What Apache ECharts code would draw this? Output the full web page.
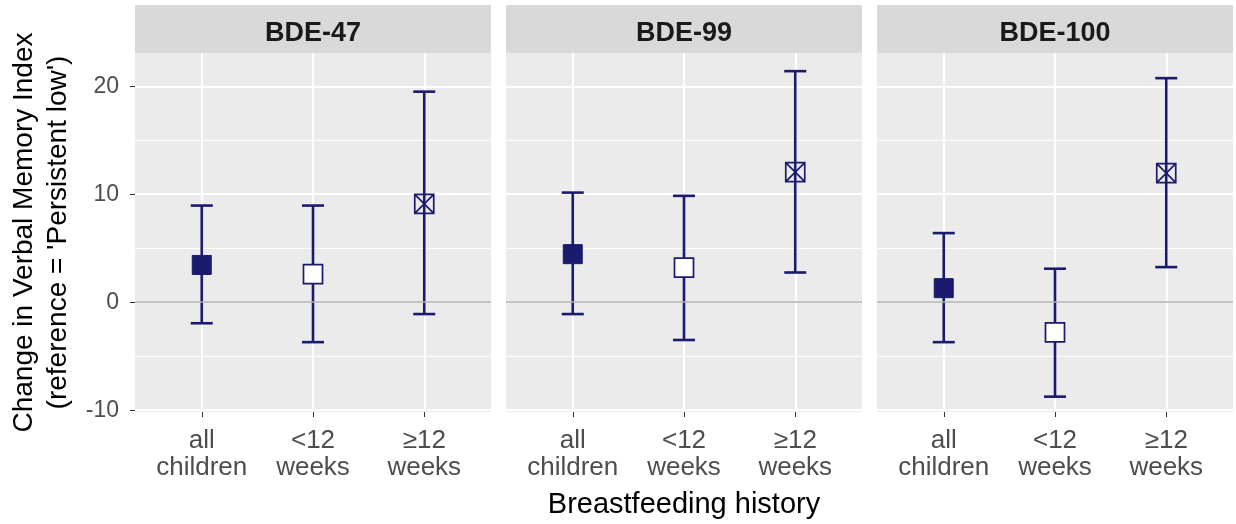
<!DOCTYPE html>
<html>
<head>
<meta charset="utf-8">
<title>Verbal Memory Index by breastfeeding history</title>
<script src="https://cdn.jsdelivr.net/npm/echarts@6/dist/echarts.min.js"></script>
<style>
  html, body { margin: 0; padding: 0; background: #ffffff; }
  #chart { width: 1236px; height: 524px; }
</style>
</head>
<body>
<div id="chart"></div>
<script>
// panels (facets) and x categories
const panels = ['BDE-47', 'BDE-99', 'BDE-100'];
const groups = ['all\nchildren', '<12\nweeks', '≥12\nweeks'];

// estimates and 95% CI
const estBDE47 = [3.45, 2.6, 9.1];
const lowBDE47 = [-1.95, -3.7, -1.1];
const highBDE47 = [8.95, 8.95, 19.5];

const estBDE99 = [4.45, 3.2, 12.05];
const lowBDE99 = [-1.1, -3.5, 2.75];
const highBDE99 = [10.15, 9.85, 21.4];

const estBDE100 = [1.3, -2.8, 11.95];
const lowBDE100 = [-3.7, -8.75, 3.25];
const highBDE100 = [6.4, 3.1, 20.75];

// axis breaks
const yMajorTicks = [-10, 0, 10, 20];
const yMinorTicks = [-5, 5, 15];
const xTicks = [1, 2, 3];

const panelValues = [
  [estBDE47, lowBDE47, highBDE47],
  [estBDE99, lowBDE99, highBDE99],
  [estBDE100, lowBDE100, highBDE100]
];

const NAVY = '#1a1a6e';
const FONT = '"Liberation Sans", Arial, sans-serif';

// panel layout (pixels)
const panelLeft = [135, 506, 877];
const panelWidth = 356;
const panelTop = 53;
const panelHeight = 359;
const stripTop = 5;

const chart = echarts.init(document.getElementById('chart'), null, { renderer: 'canvas' });

const grids = panelLeft.map(left => ({
  left: left,
  top: panelTop,
  width: panelWidth,
  height: panelHeight,
  show: true,
  backgroundColor: '#EBEBEB',
  borderWidth: 0
}));

const xAxes = panelLeft.map((_, i) => ({
  type: 'value',
  gridIndex: i,
  min: 0.4,
  max: 3.6,
  axisLine: { show: false, onZero: false },
  axisTick: { show: true, customValues: xTicks, length: 5, lineStyle: { color: '#333333', width: 1 } },
  axisLabel: {
    customValues: xTicks,
    formatter: v => groups[Math.round(v) - 1],
    color: '#4D4D4D',
    fontFamily: FONT,
    fontSize: 26,
    lineHeight: 27,
    margin: 15
  },
  splitLine: { show: true, lineStyle: { color: '#ffffff', width: 2 } },
  name: i === 1 ? 'Breastfeeding history' : '',
  nameLocation: 'middle',
  nameGap: 78,
  nameTextStyle: { color: '#000000', fontFamily: FONT, fontSize: 29 }
}));

const yAxes = [];
panelLeft.forEach((_, i) => {
  yAxes.push({
    type: 'value',
    gridIndex: i,
    min: -10.17,
    max: 23.08,
    axisLine: { show: false, onZero: false },
    axisTick: { show: i === 0, customValues: yMajorTicks, length: 5, lineStyle: { color: '#333333', width: 1 } },
    axisLabel: {
      show: i === 0,
      customValues: yMajorTicks,
      color: '#4D4D4D',
      fontFamily: FONT,
      fontSize: 23,
      margin: 16
    },
    splitLine: { show: true, lineStyle: { color: '#ffffff', width: 2 } },
    name: i === 0 ? "Change in Verbal Memory Index\n(reference = 'Persistent low')" : '',
    nameLocation: 'middle',
    nameRotate: 90,
    nameGap: 60,
    nameTextStyle: { color: '#000000', fontFamily: FONT, fontSize: 28, lineHeight: 34 }
  });
  yAxes.push({
    type: 'value',
    gridIndex: i,
    min: -10.17,
    max: 23.08,
    axisLine: { show: false, onZero: false },
    axisTick: { show: false, customValues: yMinorTicks },
    axisLabel: { show: false, customValues: yMinorTicks },
    splitLine: { show: true, lineStyle: { color: '#ffffff', width: 1 } }
  });
});

const squareCross = 'path://M0,0L20,0L20,20L0,20Z M0,0L20,20 M20,0L0,20';
const pointStyles = [
  { symbol: 'rect', itemStyle: { color: NAVY, borderColor: NAVY, borderWidth: 1, opacity: 1 } },
  { symbol: 'rect', itemStyle: { color: '#ffffff', borderColor: NAVY, borderWidth: 1.7, opacity: 1 } },
  { symbol: squareCross, itemStyle: { color: 'rgba(0,0,0,0)', borderColor: NAVY, borderWidth: 1.7, opacity: 1 } }
];

const series = [];
panelValues.forEach(([est, low, high], i) => {
  // zero reference line
  series.push({
    type: 'line',
    xAxisIndex: i,
    yAxisIndex: 2 * i,
    data: [],
    silent: true,
    markLine: {
      silent: true,
      symbol: 'none',
      label: { show: false },
      lineStyle: { color: '#B0B0B0', width: 1.5, type: 'solid' },
      data: [{ yAxis: 0 }]
    }
  });
  // error bars
  series.push({
    type: 'custom',
    xAxisIndex: i,
    yAxisIndex: 2 * i,
    z: 3,
    encode: { x: 0, y: [1, 2] },
    data: groups.map((_, j) => [xTicks[j], low[j], high[j]]),
    renderItem: (params, api) => {
      const x = api.value(0);
      const lo = api.coord([x, api.value(1)]);
      const hi = api.coord([x, api.value(2)]);
      const half = 11;
      const style = { stroke: NAVY, lineWidth: 2.6, fill: null };
      return {
        type: 'group',
        children: [
          { type: 'line', shape: { x1: lo[0], y1: lo[1], x2: hi[0], y2: hi[1] }, style },
          { type: 'line', shape: { x1: hi[0] - half, y1: hi[1], x2: hi[0] + half, y2: hi[1] }, style },
          { type: 'line', shape: { x1: lo[0] - half, y1: lo[1], x2: lo[0] + half, y2: lo[1] }, style }
        ]
      };
    }
  });
  // point estimates
  series.push({
    type: 'scatter',
    xAxisIndex: i,
    yAxisIndex: 2 * i,
    z: 4,
    symbolSize: 19,
    data: groups.map((_, j) => ({
      value: [xTicks[j], est[j]],
      symbol: pointStyles[j].symbol,
      itemStyle: pointStyles[j].itemStyle
    }))
  });
});

const option = {
  backgroundColor: '#ffffff',
  animation: false,
  textStyle: { fontFamily: FONT },
  title: panels.map((p, i) => ({
    text: p,
    left: panelLeft[i] + panelWidth / 2,
    top: 20,
    textAlign: 'center',
    padding: 0,
    textStyle: { color: '#1A1A1A', fontFamily: FONT, fontSize: 27, fontWeight: 'bold' }
  })),
  graphic: panelLeft.map(left => ({
    type: 'rect',
    z: -1,
    shape: { x: left, y: stripTop, width: panelWidth, height: panelTop - stripTop },
    style: { fill: '#D9D9D9' }
  })),
  grid: grids,
  xAxis: xAxes,
  yAxis: yAxes,
  series: series
};

chart.setOption(option);
</script>
</body>
</html>
